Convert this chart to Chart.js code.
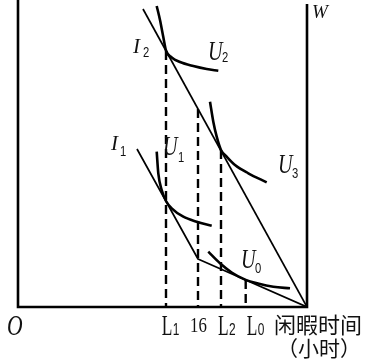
<!DOCTYPE html>
<html>
<head>
<meta charset="utf-8">
<script src="https://cdn.jsdelivr.net/npm/chart.js@4/dist/chart.umd.min.js"></script>
<style>
html,body{margin:0;padding:0;background:#fff;}
canvas{display:block;}
</style>
</head>
<body>
<canvas id="c" width="368" height="360"></canvas>
<script>
// ---- data (x: leisure, y: income W; units) ----
const budgetHighX = [125, 289];
const budgetHighY = [298, 0];
const budgetLowX = [119, 180, 289];
const budgetLowY = [158, 48, 0];

const u2X = [138.7, 142, 145.3, 148, 153.7, 162, 175.3, 188.7, 200.3];
const u2Y = [301, 287, 270, 256.5, 249.5, 245, 241, 238, 236.3];
const u3X = [192, 195.3, 198.7, 203, 208.7, 217, 230.3, 248.7];
const u3Y = [205.3, 185.3, 170.3, 157, 150.3, 142, 133.7, 124.7];
const u1X = [138.7, 140.3, 143.7, 148, 153.7, 165.3, 178.7, 193.7];
const u1Y = [155.3, 133.7, 117, 106, 98.7, 90.3, 85.3, 81.3];
const u0X = [190.3, 202, 213.7, 227.7, 240, 255.3, 272];
const u0Y = [55.3, 43.7, 34.5, 27.1, 23.5, 20.3, 18.7];

const dropX = [148, 180, 203, 227.7];
const dropTop = [256, 198, 157, 27];
const tickMain = ['L', '16', 'L', 'L'];
const tickSub = ['1', '', '2', '0'];

const xMax = 289, yMax = 307;

function pts(xs, ys) { return xs.map((x, i) => ({x: x, y: ys[i]})); }

const datasets = [];
function addLine(xs, ys, w, curve, dash) {
  datasets.push({
    data: pts(xs, ys), showLine: true, pointRadius: 0, borderColor: '#000',
    borderWidth: w, fill: false, cubicInterpolationMode: curve ? 'monotone' : 'default',
    tension: 0, borderDash: dash || [], borderCapStyle: 'butt'
  });
}
addLine(budgetHighX, budgetHighY, 1.7, false);
addLine(budgetLowX, budgetLowY, 1.7, false);
addLine(u2X, u2Y, 2.6, true);
addLine(u3X, u3Y, 2.6, true);
addLine(u1X, u1Y, 2.6, true);
addLine(u0X, u0Y, 2.6, true);
dropX.forEach((x, i) => addLine([x, x], [dropTop[i], 0], 2.4, false, [9, 5]));

function txt(ctx, s, x, y, font, sx) {
  ctx.save();
  ctx.font = font;
  ctx.fillStyle = '#111';
  ctx.textAlign = 'left';
  ctx.textBaseline = 'alphabetic';
  ctx.translate(x, y);
  ctx.scale(sx || 1, 1);
  ctx.fillText(s, 0, 0);
  ctx.restore();
}

const decor = {
  id: 'decor',
  afterDraw(chart) {
    const ctx = chart.ctx, a = chart.chartArea;
    const xs = chart.scales.x, ys = chart.scales.y;
    const X = v => xs.getPixelForValue(v), Y = v => ys.getPixelForValue(v);
    ctx.save();
    ctx.strokeStyle = '#000';
    ctx.lineWidth = 2.6;
    ctx.beginPath();
    ctx.moveTo(a.left, a.top); ctx.lineTo(a.left, a.bottom);
    ctx.moveTo(a.left - 1.3, a.bottom); ctx.lineTo(a.right + 1.3, a.bottom);
    ctx.moveTo(a.right, a.top + 4); ctx.lineTo(a.right, a.bottom);
    ctx.stroke();
    ctx.restore();

    const serifI = 'italic ';
    // curve / line labels
    txt(ctx, 'I', X(115), Y(254), 'italic 22px "Liberation Serif"', 0.95);
    txt(ctx, '2', X(125), Y(250), '15px "Liberation Sans"', 0.75);
    txt(ctx, 'U', X(190), Y(247), 'italic 28px "Liberation Serif"', 0.72);
    txt(ctx, '2', X(204), Y(245), '15px "Liberation Sans"', 0.75);
    txt(ctx, 'I', X(93), Y(157), 'italic 22px "Liberation Serif"', 0.95);
    txt(ctx, '1', X(102), Y(151), '15px "Liberation Sans"', 0.75);
    txt(ctx, 'U', X(145), Y(152), 'italic 28px "Liberation Serif"', 0.72);
    txt(ctx, '1', X(160), Y(145), '15px "Liberation Sans"', 0.75);
    txt(ctx, 'U', X(260), Y(134), 'italic 28px "Liberation Serif"', 0.72);
    txt(ctx, '3', X(274), Y(129), '15px "Liberation Sans"', 0.75);
    txt(ctx, 'U', X(223), Y(39), 'italic 28px "Liberation Serif"', 0.72);
    txt(ctx, '0', X(237), Y(34), '15px "Liberation Sans"', 0.75);

    // axis names
    txt(ctx, 'W', a.right + 5, 18, 'italic 19px "Liberation Serif"', 1);
    txt(ctx, 'O', 7, 335, 'italic 30px "Liberation Serif"', 0.72);

    // tick labels
    const offs = [-4.3, -8, -3, 1];
    dropX.forEach((v, i) => {
      const px = X(v) + offs[i];
      if (tickSub[i]) {
        txt(ctx, tickMain[i], px, 335, '29px "Liberation Serif"', 0.6);
        txt(ctx, tickSub[i], px + 11, 335, '17px "Liberation Sans"', 0.7);
      } else {
        txt(ctx, tickMain[i], px, 332, '21px "Liberation Serif"', 0.8);
      }
    });
    txt(ctx, '闲暇时间', a.right - 33, 333, '22px "Noto Sans CJK SC"', 1);
    txt(ctx, '（小时）', a.right - 30, 356, '21px "Noto Sans CJK SC"', 1);
  }
};

new Chart(document.getElementById('c'), {
  type: 'scatter',
  data: { datasets: datasets },
  options: {
    responsive: false,
    animation: false,
    devicePixelRatio: 1,
    layout: { padding: { left: 18, right: 61, top: 0, bottom: 53 } },
    plugins: { legend: { display: false }, tooltip: { enabled: false } },
    scales: {
      x: { type: 'linear', min: 0, max: xMax, display: false },
      y: { type: 'linear', min: 0, max: yMax, display: false }
    },
    elements: { line: { borderJoinStyle: 'round' } }
  },
  plugins: [decor]
});
</script>
</body>
</html>
